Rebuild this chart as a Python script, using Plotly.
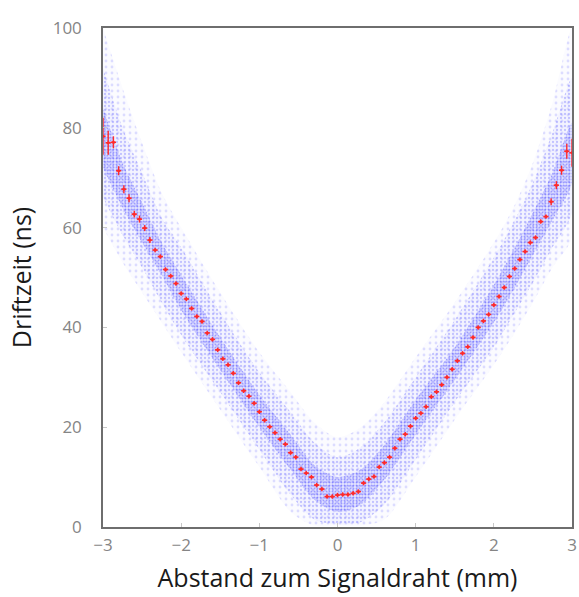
import plotly.graph_objects as go

# Profile of drift time vs. distance to the signal wire (bin width 1/15 mm)
dist_mm = [round(-3 + k / 15, 4) for k in range(91)]
drift_ns = [
    78.3, 77.0, 77.1, 71.4, 67.7, 65.9, 62.7, 61.7, 59.9, 57.5,
    55.5, 54.2, 51.6, 50.3, 48.8, 46.8, 45.7, 43.8, 42.2, 41.2,
    38.9, 37.6, 35.5, 33.7, 32.5, 30.8, 28.9, 27.3, 26.2, 24.8,
    23.1, 21.4, 20.1, 18.9, 17.6, 16.6, 14.9, 14.0, 11.6, 10.8,
    10.0, 8.4, 7.6, 6.1, 6.1, 6.4, 6.5, 6.5, 6.75, 7.1,
    8.8, 9.6, 10.1, 12.0, 12.9, 14.0, 15.8, 17.6, 18.6, 20.2,
    21.8, 22.8, 24.1, 26.1, 27.1, 28.5, 30.0, 31.6, 33.3, 34.8,
    36.1, 38.0, 40.0, 41.3, 42.6, 44.5, 46.2, 48.0, 50.2, 51.8,
    53.6, 55.2, 57.0, 58.0, 61.2, 62.2, 65.2, 68.5, 71.5, 75.3,
    75.0,
]
drift_err = [3.7, 2.4, 1.2, 0.9, 0.8, 0.8, 0.7, 0.7, 0.6, 0.6] + [0.45] * 76 + [0.7, 0.8, 0.9, 1.5, 2.8]
dist_err = [1 / 30] * 91

# Envelopes of the measured hit cloud: dense core, wider halo, sparse outskirts
cloud_x = [-3, -2.75, -2.5, -2.25, -2, -1.5, -1, -0.6, -0.3, 0, 0.3, 0.6, 1, 1.5, 2, 2.25, 2.5, 2.75, 3]
core_lo = [72, 64, 57, 50.5, 43.5, 31.5, 20, 11.5, 5.5, 3, 4.5, 9.5, 18.5, 29.5, 41, 47.5, 54.5, 61.5, 69]
core_hi = [84, 73, 65, 57, 50.5, 38, 26.5, 18.5, 12.5, 10, 11.5, 16.5, 25.5, 36, 48.5, 55.5, 63, 71, 81]
halo_lo = [66, 58.5, 52, 45, 38.5, 27, 15.5, 6.5, 1.5, 0.5, 1, 4.5, 13.5, 25, 36, 42.5, 49, 56, 63]
halo_hi = [92, 80, 71, 62, 56, 43, 31, 23, 17, 14, 16, 21, 30, 41.5, 54, 61, 69, 79, 90]
outer_lo = [60, 53, 47, 41, 35, 23.5, 12, 3, 0.3, 0.3, 0.3, 1.5, 10, 21.5, 32.5, 38.5, 45, 52, 58]
outer_hi = [100, 88, 77, 67, 60, 47, 35, 27, 21, 18, 20, 25, 34, 45, 57, 64, 73, 85, 100]

x_ticks = [-3, -2, -1, 0, 1, 2, 3]
y_ticks = [0, 20, 40, 60, 80, 100]


def band(lo, hi, bg, fg, size, solidity):
    return go.Scatter(
        x=cloud_x + cloud_x[::-1],
        y=hi + lo[::-1],
        mode="lines",
        line=dict(width=0, shape="spline", smoothing=0.8),
        fill="toself",
        fillcolor=bg,
        fillpattern=dict(shape=".", bgcolor=bg, fgcolor=fg, size=size,
                         solidity=solidity, fillmode="replace"),
        hoverinfo="skip",
        showlegend=False,
    )


fig = go.Figure()
fig.add_trace(band(outer_lo, outer_hi, "rgba(160,160,255,0.04)", "rgba(110,110,255,0.22)", 6, 0.18))
fig.add_trace(band(halo_lo, halo_hi, "rgba(150,150,255,0.08)", "rgba(90,90,255,0.32)", 4, 0.25))
fig.add_trace(band(core_lo, core_hi, "rgba(130,130,255,0.14)", "rgba(70,70,255,0.45)", 3, 0.30))

fig.add_trace(go.Scatter(
    x=dist_mm, y=drift_ns,
    mode="markers",
    marker=dict(color="#ff2a2a", size=3),
    error_x=dict(type="data", array=dist_err, color="#ff2a2a", thickness=1.6, width=0),
    error_y=dict(type="data", array=drift_err, color="#ff2a2a", thickness=1.4, width=0),
    showlegend=False,
))

axis_common = dict(
    showgrid=False, zeroline=False, showline=True, mirror=True,
    linecolor="#6e6e6e", linewidth=1.5,
    ticks="inside", ticklen=4, tickcolor="#c8c8c8",
    ticklabeloverflow="allow",
    tickfont=dict(family="Open Sans", size=17, color="#858585"),
)

fig.update_xaxes(
    range=[-3, 3], tickvals=x_ticks, ticktext=[str(v).replace("-", "\u2212") for v in x_ticks],
    ticklabelstandoff=2,
    title=dict(text="Abstand zum Signaldraht (mm)", standoff=14,
               font=dict(family="Open Sans", size=25, color="#1a1a1a")),
    **axis_common,
)
fig.update_yaxes(
    range=[0, 100], tickvals=y_ticks,
    ticklabelstandoff=16,
    title=dict(text="Driftzeit (ns)", standoff=14,
               font=dict(family="Open Sans", size=25, color="#1a1a1a")),
    **axis_common,
)

fig.update_layout(
    width=579, height=597,
    margin=dict(l=103, r=7, t=28, b=70, autoexpand=False),
    plot_bgcolor="white", paper_bgcolor="white",
)

fig.write_html("out.html")
